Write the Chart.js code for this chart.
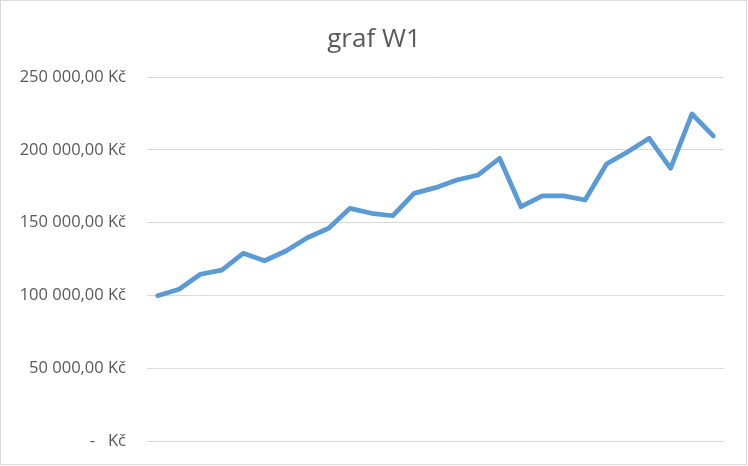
<!DOCTYPE html>
<html>
<head>
<meta charset="utf-8">
<script src="https://cdn.jsdelivr.net/npm/chart.js@4/dist/chart.umd.min.js"></script>
<style>
html,body{margin:0;padding:0;background:#fff;}
#wrap{width:748px;height:466px;position:relative;}
</style>
</head>
<body>
<div id="wrap"><canvas id="c" width="748" height="466"></canvas></div>
<script>
const chartTitle = 'graf W1';
const categories = ['1','2','3','4','5','6','7','8','9','10','11','12','13','14','15','16','17','18','19','20','21','22','23','24','25','26','27'];
const values = [99800, 104200, 114500, 117400, 128900, 123800, 130500, 139600, 146100, 159800, 156400, 154700, 170100, 174000, 179300, 182700, 194200, 160900, 168300, 168300, 165500, 190200, 198700, 207900, 187300, 224600, 209500];
const yTicks = [0, 50000, 100000, 150000, 200000, 250000];

function fmtKc(v){
  if (v === 0) return '-   Kč';
  const s = Math.round(v).toString().replace(/\B(?=(\d{3})+(?!\d))/g, ' ');
  return s + ',00 Kč';
}

const borderPlugin = {
  id: 'frame',
  beforeDraw(chart){
    const ctx = chart.ctx;
    ctx.save();
    ctx.fillStyle = '#ffffff';
    ctx.fillRect(0,0,chart.width,chart.height);
    ctx.strokeStyle = '#d9d9d9';
    ctx.lineWidth = 1;
    ctx.strokeRect(0.5,0.5,746,464);
    ctx.restore();
  }
};

new Chart(document.getElementById('c'), {
  type: 'line',
  data: {
    labels: categories,
    datasets: [{
      label: chartTitle,
      data: values,
      borderColor: '#5b9bd5',
      backgroundColor: '#5b9bd5',
      borderWidth: 4.75,
      pointRadius: 0,
      tension: 0,
      borderCapStyle: 'round',
      borderJoinStyle: 'round',
      fill: false,
      yAxisID: 'y'
    }]
  },
  options: {
    responsive: false,
    animation: false,
    layout: { padding: { top: 0, left: 0, right: 0, bottom: 25 } },
    plugins: {
      legend: { display: false },
      tooltip: { enabled: false },
      title: {
        display: true,
        text: chartTitle,
        color: '#595959',
        font: { family: 'Open Sans', size: 26, weight: 'normal', lineHeight: 1.2 },
        padding: { top: 23.5, bottom: 22.3 }
      }
    },
    scales: {
      x: {
        display: false,
        offset: true
      },
      y: {
        position: 'left',
        min: 0,
        max: 250000,
        afterBuildTicks(scale){ scale.ticks = yTicks.map(v => ({ value: v })); },
        afterFit(scale){ scale.width = 147; },
        border: { display: false },
        grid: { color: '#d9d9d9', lineWidth: 1, drawTicks: true, tickLength: 21, tickColor: 'rgba(0,0,0,0)' },
        ticks: {
          padding: 0,
          color: '#595959',
          font: { family: 'Open Sans', size: 16.5 },
          callback: (v) => fmtKc(v)
        }
      },
      yRightSpace: {
        type: 'linear',
        position: 'right',
        display: true,
        afterFit(scale){ scale.width = 24; },
        border: { display: false },
        grid: { display: false },
        ticks: { display: false }
      }
    }
  },
  plugins: [borderPlugin]
});
</script>
</body>
</html>
